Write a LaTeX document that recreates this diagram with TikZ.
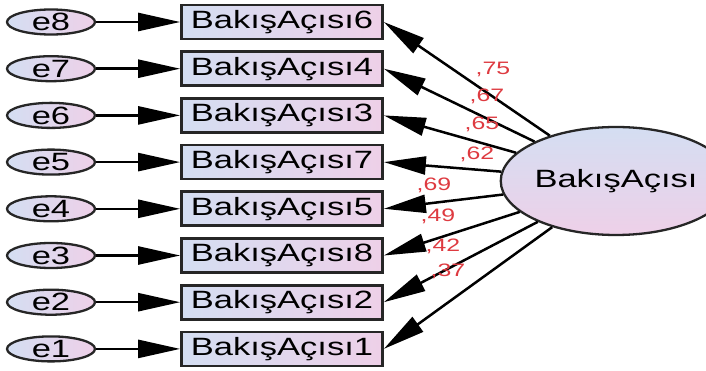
\documentclass[tikz,border=0pt]{standalone}
\usepackage{fontspec}
\setmainfont{Liberation Sans}
\usetikzlibrary{arrows.meta,shapes.geometric}
\newcommand{\widetxt}[1]{\scalebox{1.38}[1]{#1}}
\definecolor{lavblue}{RGB}{212,222,242}
\definecolor{lavpink}{RGB}{238,208,232}
\definecolor{loadred}{RGB}{222,58,64}
\begin{document}
\begin{tikzpicture}[x=1pt,y=-1pt,
  obsbox/.style={draw=black!85,line width=2.7pt,left color=lavblue,right color=lavpink,
    minimum width=201pt,minimum height=34pt,inner sep=0pt,
    font=\fontsize{25}{27}\selectfont},
  errell/.style={draw=black!85,ellipse,line width=2.3pt,left color=lavblue,right color=lavpink,
    minimum width=88pt,minimum height=25pt,inner sep=0pt,
    font=\fontsize{25}{27}\selectfont},
  latent/.style={draw=black!85,ellipse,line width=2.3pt,top color=lavblue,bottom color=lavpink,
    minimum width=178pt,minimum height=108pt,inner sep=0pt,
    font=\fontsize{25}{27}\selectfont},
  causal/.style={line width=2.5pt,-{Triangle[length=42pt,width=18pt]}},
  loadlbl/.style={text=loadred,inner sep=0pt,font=\fontsize{18}{20}\selectfont}]
\useasboundingbox (0,0) rectangle (706,371);
\fill[white] (0,0) rectangle (706,371);

% latent factor
\node[latent] (F) at (616,181) {\widetxt{BakışAçısı}};

% observed indicators with their error terms, top to bottom
\foreach \k/\item/\err in {0/6/8,1/4/7,2/3/6,3/7/5,4/5/4,5/8/3,6/2/2,7/1/1}{
  \node[obsbox] (b\item) at (282,{22+46.7*\k}) {\widetxt{BakışAçısı\item}};
  \node[errell] (e\err) at (51,{22+46.7*\k}) {\widetxt{e\err}};
  \draw[causal] (e\err) -- (b\item);
  \draw[causal] (F) -- (b\item.east);
}

% standardized loadings
\node[loadlbl] (l6) at (493,69) {\widetxt{,75}};
\node[loadlbl] (l4) at (487,96) {\widetxt{,67}};
\node[loadlbl] (l3) at (482,124) {\widetxt{,65}};
\node[loadlbl] (l7) at (477,154) {\widetxt{,62}};
\node[loadlbl] (l5) at (434,185) {\widetxt{,69}};
\node[loadlbl] (l8) at (438,216) {\widetxt{,49}};
\node[loadlbl] (l2) at (443,246) {\widetxt{,42}};
\node[loadlbl] (l1) at (448,271) {\widetxt{,37}};
\end{tikzpicture}
\end{document}
